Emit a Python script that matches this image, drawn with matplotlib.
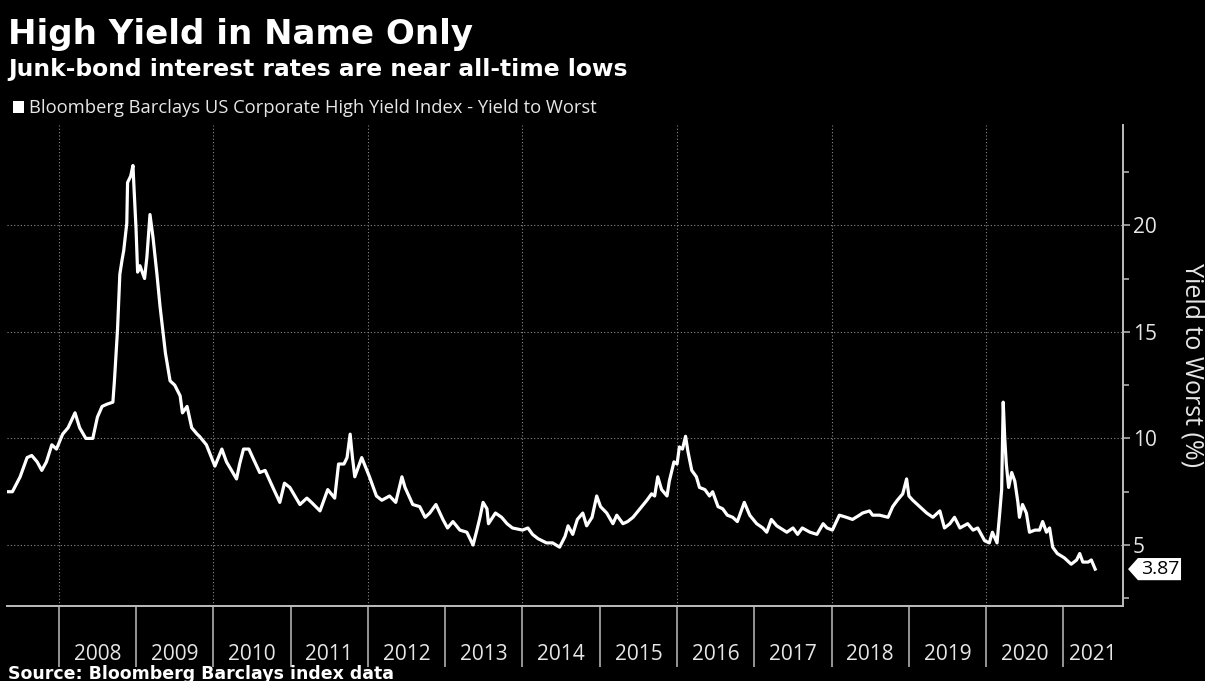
import matplotlib
matplotlib.use("Agg")
import matplotlib.pyplot as plt
import matplotlib.transforms as mtransforms
from matplotlib.patches import Polygon, Rectangle
import numpy as np

# yield to worst (decimal year, percent)
dates = [
    2007.33, 2007.40, 2007.50, 2007.59, 2007.65, 2007.72, 2007.78, 2007.84, 2007.91, 2007.97,
    2008.05, 2008.12, 2008.21, 2008.27, 2008.35, 2008.44, 2008.50, 2008.56, 2008.62, 2008.70,
    2008.72, 2008.76, 2008.79, 2008.82, 2008.84, 2008.88, 2008.89, 2008.93, 2008.96, 2008.97,
    2009.00, 2009.02, 2009.05, 2009.11, 2009.14, 2009.18, 2009.22, 2009.27, 2009.31, 2009.36,
    2009.38, 2009.44, 2009.50, 2009.57, 2009.60, 2009.66, 2009.72, 2009.79, 2009.82, 2009.91,
    2010.02, 2010.11, 2010.17, 2010.30, 2010.34, 2010.39, 2010.46, 2010.51, 2010.60, 2010.67,
    2010.77, 2010.86, 2010.92, 2010.99, 2011.12, 2011.21, 2011.27, 2011.38, 2011.48, 2011.57,
    2011.62, 2011.69, 2011.73, 2011.77, 2011.80, 2011.83, 2011.92, 2012.02, 2012.11, 2012.18,
    2012.28, 2012.36, 2012.44, 2012.48, 2012.58, 2012.67, 2012.74, 2012.80, 2012.88, 2012.97,
    2013.03, 2013.10, 2013.19, 2013.28, 2013.36, 2013.41, 2013.45, 2013.49, 2013.54, 2013.56,
    2013.65, 2013.73, 2013.80, 2013.87, 2014.00, 2014.07, 2014.13, 2014.20, 2014.31, 2014.39,
    2014.48, 2014.55, 2014.59, 2014.65, 2014.71, 2014.78, 2014.83, 2014.90, 2014.96, 2015.01,
    2015.09, 2015.17, 2015.22, 2015.30, 2015.36, 2015.43, 2015.52, 2015.61, 2015.67, 2015.71,
    2015.75, 2015.80, 2015.87, 2015.90, 2015.96, 2016.00, 2016.03, 2016.07, 2016.11, 2016.14,
    2016.19, 2016.25, 2016.29, 2016.36, 2016.42, 2016.46, 2016.53, 2016.59, 2016.65, 2016.72,
    2016.78, 2016.87, 2016.94, 2017.03, 2017.11, 2017.16, 2017.22, 2017.29, 2017.42, 2017.50,
    2017.56, 2017.62, 2017.72, 2017.81, 2017.89, 2017.94, 2018.01, 2018.10, 2018.19, 2018.27,
    2018.36, 2018.40, 2018.49, 2018.53, 2018.62, 2018.73, 2018.79, 2018.85, 2018.92, 2018.97,
    2019.00, 2019.05, 2019.14, 2019.23, 2019.31, 2019.40, 2019.46, 2019.53, 2019.59, 2019.66,
    2019.76, 2019.83, 2019.89, 2019.98, 2020.04, 2020.08, 2020.14, 2020.17, 2020.20, 2020.22,
    2020.24, 2020.26, 2020.29, 2020.33, 2020.37, 2020.41, 2020.43, 2020.47, 2020.52, 2020.56,
    2020.63, 2020.69, 2020.73, 2020.78, 2020.82, 2020.86, 2020.92, 2021.01, 2021.10, 2021.17,
    2021.21, 2021.25, 2021.32, 2021.36, 2021.41,
]
ytw = [
    7.5, 7.5, 8.2, 9.1, 9.2, 8.9, 8.5, 8.9, 9.7, 9.5,
    10.2, 10.5, 11.2, 10.5, 10.0, 10.0, 11.0, 11.5, 11.6, 11.7,
    12.7, 15.1, 17.7, 18.4, 18.8, 20.1, 22.0, 22.3, 22.8, 22.0,
    19.8, 17.8, 18.1, 17.5, 18.5, 20.5, 19.4, 17.7, 16.2, 14.6,
    14.0, 12.7, 12.5, 12.0, 11.2, 11.5, 10.5, 10.2, 10.1, 9.7,
    8.7, 9.5, 8.9, 8.1, 8.8, 9.5, 9.5, 9.1, 8.4, 8.5,
    7.7, 7.0, 7.9, 7.7, 6.9, 7.2, 7.0, 6.6, 7.6, 7.2,
    8.8, 8.8, 9.1, 10.2, 9.1, 8.2, 9.1, 8.2, 7.3, 7.1,
    7.3, 7.0, 8.2, 7.7, 6.9, 6.8, 6.3, 6.5, 6.9, 6.2,
    5.8, 6.1, 5.7, 5.6, 5.0, 5.7, 6.3, 7.0, 6.7, 6.0,
    6.5, 6.3, 6.0, 5.8, 5.7, 5.8, 5.5, 5.3, 5.1, 5.1,
    4.9, 5.4, 5.9, 5.5, 6.2, 6.5, 5.9, 6.3, 7.3, 6.8,
    6.5, 6.0, 6.4, 6.0, 6.1, 6.3, 6.7, 7.1, 7.4, 7.3,
    8.2, 7.6, 7.3, 8.0, 8.9, 8.8, 9.6, 9.5, 10.1, 9.4,
    8.5, 8.2, 7.7, 7.6, 7.3, 7.5, 6.8, 6.7, 6.4, 6.3,
    6.1, 7.0, 6.4, 6.0, 5.8, 5.6, 6.2, 5.9, 5.6, 5.8,
    5.5, 5.8, 5.6, 5.5, 6.0, 5.8, 5.7, 6.4, 6.3, 6.2,
    6.4, 6.5, 6.6, 6.4, 6.4, 6.3, 6.8, 7.1, 7.4, 8.1,
    7.3, 7.1, 6.8, 6.5, 6.3, 6.6, 5.8, 6.0, 6.3, 5.8,
    6.0, 5.7, 5.8, 5.2, 5.1, 5.6, 5.1, 6.3, 7.6, 11.7,
    10.0, 8.8, 7.7, 8.4, 8.0, 7.0, 6.3, 6.9, 6.5, 5.6,
    5.7, 5.7, 6.1, 5.6, 5.8, 4.9, 4.6, 4.4, 4.1, 4.3,
    4.6, 4.2, 4.2, 4.3, 3.87,
]
years = list(range(2008, 2022))
y_major = [5, 10, 15, 20]

fg = "#e6e6e6"
axis_col = "#bdbdbd"
grid_col = "#8a8a8a"

plt.rcParams["font.family"] = ["Open Sans", "DejaVu Sans"]

fig = plt.figure(figsize=(12.05, 6.81), dpi=100, facecolor="black")
ax = fig.add_axes([7 / 1205, 1 - 606 / 681, 1116 / 1205, 481 / 681])
ax.set_facecolor("black")

x0, x1 = 2007.33, 2021.77
ax.set_xlim(x0, x1)
ax.set_ylim(2.14, 24.7)

ax.plot(dates, ytw, color="white", lw=2.3, solid_joinstyle="round", zorder=3)

# gridlines
for v in y_major:
    ax.axhline(v, color=grid_col, lw=0.8, ls=(0, (1, 2)), zorder=1)
for yr in years[::2]:
    ax.axvline(yr, color=grid_col, lw=0.8, ls=(0, (1, 2)), zorder=1)

# spines
for s in ["top", "left"]:
    ax.spines[s].set_visible(False)
for s in ["bottom", "right"]:
    ax.spines[s].set_color(axis_col)
    ax.spines[s].set_linewidth(1.4)

# x axis: long year separators, labels centred in each year
ax.set_xticks(years, labels=[""] * len(years))
mids = [y + 0.5 for y in years[:-1]] + [(years[-1] + x1) / 2]
ax.set_xticks(mids, labels=[str(y) for y in years], minor=True)
ax.tick_params(axis="x", which="major", length=44, width=1.1, color=axis_col, direction="out")
ax.tick_params(axis="x", which="minor", length=0, pad=27, labelsize=15, labelcolor=fg)

# y axis on the right
ax.yaxis.tick_right()
ax.set_yticks(y_major)
ax.set_yticks(np.arange(2.5, 24, 5), minor=True)
ax.tick_params(axis="y", which="major", length=5, width=1.1, color=axis_col, pad=2,
               labelsize=15, labelcolor=fg)
ax.tick_params(axis="y", which="minor", length=4, width=1.1, color=axis_col)
ax.yaxis.set_label_position("right")
ax.set_ylabel("Yield to Worst (%)", rotation=270, fontsize=18, color=fg, va="center")
ax.yaxis.set_label_coords(1.062, 0.5)

# last value tag
last = ytw[-1]
trans = mtransforms.blended_transform_factory(ax.transAxes, ax.transData)
tag = Polygon([(1.0045, last), (1.0134, last + 0.52), (1.052, last + 0.52),
               (1.052, last - 0.52), (1.0134, last - 0.52)],
              closed=True, transform=trans, facecolor="white", edgecolor="none",
              clip_on=False, zorder=5)
ax.add_patch(tag)
ax.text(1.033, last, f"{last:.2f}", transform=trans, ha="center", va="center",
        fontsize=14, color="black", clip_on=False, zorder=6)

# titles
fig.text(8 / 1205, 1 - 44 / 681, "High Yield in Name Only", color="white",
         fontsize=24.5, fontweight="bold", family="DejaVu Sans", va="baseline")
fig.text(8 / 1205, 1 - 76 / 681, "Junk-bond interest rates are near all-time lows",
         color="white", fontsize=16.8, fontweight="bold", family="DejaVu Sans", va="baseline")

# legend
fig.patches.append(Rectangle((13 / 1205, 1 - 113 / 681), 11 / 1205, 12 / 681,
                             transform=fig.transFigure, facecolor="white", edgecolor="none"))
fig.text(29 / 1205, 1 - 113 / 681,
         "Bloomberg Barclays US Corporate High Yield Index - Yield to Worst",
         color=fg, fontsize=13.2, va="baseline")

fig.text(8 / 1205, 1 - 679 / 681, "Source: Bloomberg Barclays index data", color="white",
         fontsize=12.5, fontweight="bold", family="DejaVu Sans", va="baseline")

fig.savefig("out.png", dpi=100, facecolor="black")
